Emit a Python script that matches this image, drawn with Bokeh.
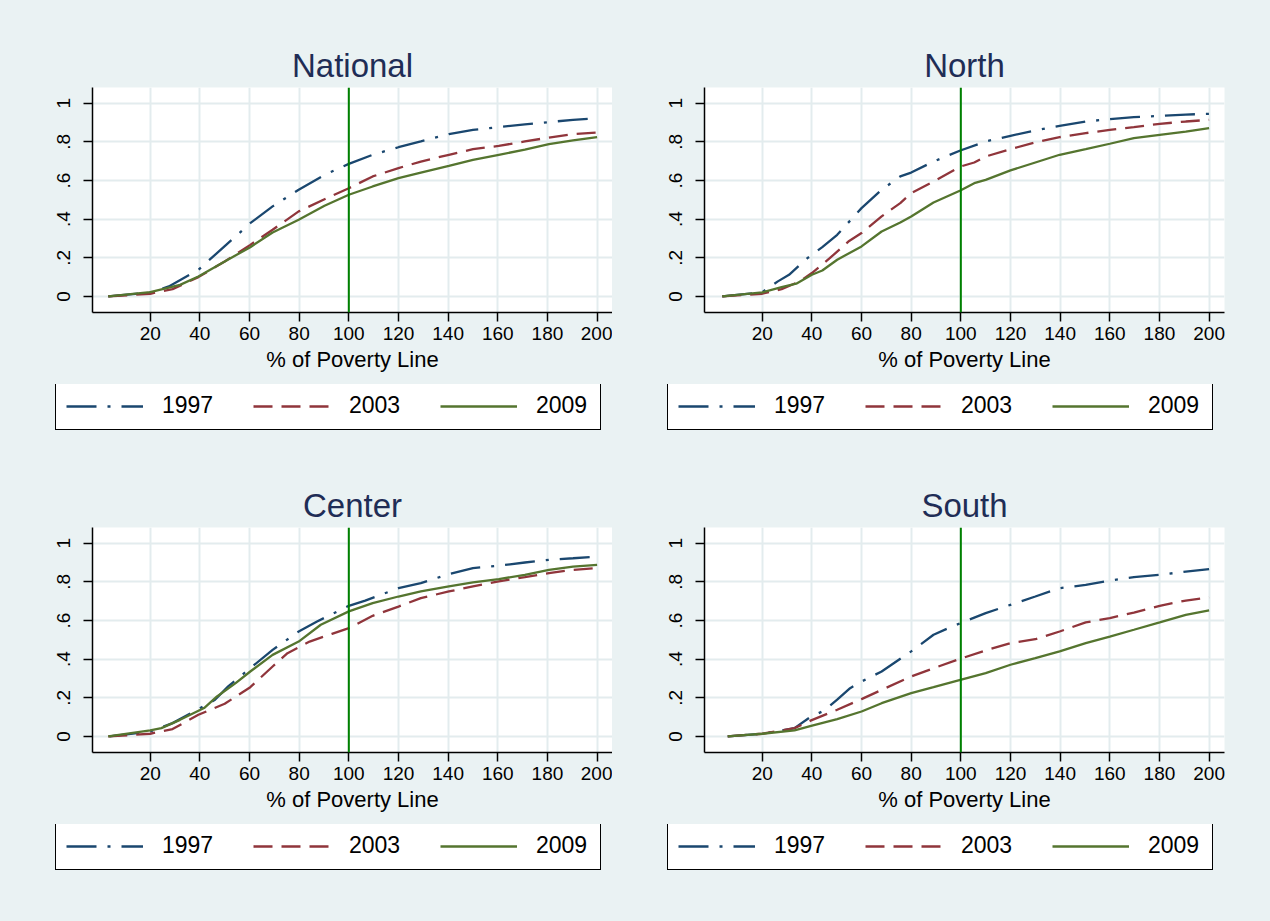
from bokeh.plotting import figure
from bokeh.layouts import column, row
from bokeh.models import Range1d, FixedTicker, Legend, Span
from bokeh.embed import file_html
from bokeh.resources import INLINE

# Cumulative share of population below a given % of the poverty line
years = ["1997", "2003", "2009"]
regions = ["National", "North", "Center", "South"]
x_ticks = [20, 40, 60, 80, 100, 120, 140, 160, 180, 200]
y_ticks = [0, 0.2, 0.4, 0.6, 0.8, 1]
y_tick_labels = {0: "0", 0.2: ".2", 0.4: ".4", 0.6: ".6", 0.8: ".8", 1: "1"}
poverty_line = 100

national_x_1997 = [3.1, 20, 27.5, 39.4, 49.9, 60.3, 69.3, 79.8, 90.2, 100, 109.6, 120, 129, 140.3, 150, 160.4, 170.9, 180.6, 190.3, 200]
national_y_1997 = [0, 0.02, 0.052, 0.138, 0.259, 0.379, 0.466, 0.552, 0.629, 0.686, 0.733, 0.772, 0.802, 0.84, 0.862, 0.876, 0.89, 0.902, 0.914, 0.922]
national_x_2003 = [3.1, 20, 29, 39.4, 50, 60.3, 69.3, 79.8, 90.2, 100, 109.6, 120, 129, 140.3, 150, 160.4, 170.9, 180.6, 190.3, 200]
national_y_2003 = [0, 0.014, 0.038, 0.1, 0.181, 0.267, 0.345, 0.44, 0.503, 0.56, 0.621, 0.664, 0.698, 0.733, 0.762, 0.779, 0.802, 0.822, 0.84, 0.848]
national_x_2009 = [3.1, 20, 32, 39.4, 50, 60.3, 69.3, 79.8, 90.2, 100, 109.6, 120, 129, 140.3, 150, 160.4, 170.9, 180.6, 190.3, 200]
national_y_2009 = [0, 0.022, 0.06, 0.103, 0.181, 0.255, 0.331, 0.397, 0.469, 0.526, 0.569, 0.612, 0.641, 0.676, 0.707, 0.733, 0.759, 0.788, 0.807, 0.824]

north_x_1997 = [3.9, 20, 26.3, 30.8, 38.2, 44.2, 50.2, 60, 68.1, 75.6, 80, 89, 99.8, 110, 120, 130, 139.8, 150.3, 160, 169.7, 180.1, 190.6, 200]
north_y_1997 = [0, 0.022, 0.078, 0.112, 0.198, 0.255, 0.319, 0.457, 0.552, 0.621, 0.641, 0.698, 0.755, 0.802, 0.831, 0.859, 0.883, 0.905, 0.917, 0.928, 0.934, 0.941, 0.945]
north_x_2003 = [3.9, 20, 27.8, 35.2, 40, 47.2, 54.7, 60, 68.1, 75.6, 80, 89, 99.8, 105.4, 110, 120, 130, 139.8, 150.3, 160, 169.7, 180.1, 190.6, 200]
north_y_2003 = [0, 0.014, 0.038, 0.078, 0.121, 0.198, 0.284, 0.328, 0.414, 0.483, 0.534, 0.595, 0.672, 0.693, 0.724, 0.762, 0.797, 0.824, 0.845, 0.862, 0.876, 0.893, 0.905, 0.914]
north_x_2009 = [3.9, 20, 27.8, 33.7, 40, 44.2, 50.2, 60, 68.1, 75.6, 80, 89, 99.8, 105.4, 110, 120, 130, 139.8, 150.3, 160, 169.7, 180.1, 190.6, 200]
north_y_2009 = [0, 0.021, 0.048, 0.066, 0.112, 0.134, 0.19, 0.259, 0.336, 0.383, 0.414, 0.486, 0.548, 0.586, 0.603, 0.652, 0.693, 0.733, 0.762, 0.79, 0.819, 0.836, 0.853, 0.871]

center_x_1997 = [3.6, 20, 29, 39.4, 46.1, 51.4, 60.3, 69.3, 79.8, 87.2, 100, 106.6, 120, 129, 140.3, 150, 160.4, 170.9, 180.6, 190.3, 197]
center_y_1997 = [0, 0.026, 0.069, 0.141, 0.19, 0.259, 0.353, 0.448, 0.543, 0.595, 0.676, 0.703, 0.767, 0.793, 0.84, 0.871, 0.883, 0.9, 0.914, 0.922, 0.928]
center_x_2003 = [3.1, 20, 29, 39.4, 50, 60.3, 69.3, 75.3, 84.2, 93.2, 100, 109.6, 120, 129, 140.3, 150, 160.4, 170.9, 180.6, 190.3, 200]
center_y_2003 = [0, 0.014, 0.038, 0.112, 0.169, 0.255, 0.362, 0.431, 0.491, 0.531, 0.56, 0.624, 0.672, 0.716, 0.75, 0.776, 0.802, 0.824, 0.845, 0.862, 0.871]
center_x_2009 = [3.1, 20, 24.5, 32, 41.7, 46.9, 54.4, 60.3, 69.3, 79.8, 88.7, 100, 109.6, 120, 129, 140.3, 150, 160.4, 170.9, 180.6, 190.3, 200]
center_y_2009 = [0, 0.031, 0.043, 0.086, 0.147, 0.207, 0.276, 0.336, 0.422, 0.491, 0.578, 0.647, 0.69, 0.724, 0.75, 0.776, 0.797, 0.814, 0.836, 0.862, 0.879, 0.888]

south_x_1997 = [6.1, 20, 27.8, 33, 39.7, 45, 50.2, 55.4, 60, 68.1, 80, 89, 96.5, 99.8, 110, 120, 130, 139.8, 150.3, 160, 169.7, 180.1, 190.6, 200]
south_y_1997 = [0, 0.014, 0.031, 0.043, 0.103, 0.134, 0.19, 0.25, 0.284, 0.336, 0.44, 0.526, 0.569, 0.586, 0.638, 0.681, 0.724, 0.767, 0.784, 0.807, 0.824, 0.836, 0.853, 0.866]
south_x_2003 = [6.1, 20, 33, 39.7, 50.2, 60, 68.1, 80, 89, 99.8, 110, 120, 130, 139.8, 150.3, 160, 169.7, 180.1, 190.6, 200]
south_y_2003 = [0, 0.014, 0.043, 0.083, 0.138, 0.193, 0.241, 0.31, 0.353, 0.402, 0.445, 0.483, 0.503, 0.543, 0.59, 0.612, 0.641, 0.676, 0.703, 0.719]
south_x_2009 = [6.1, 20, 33, 39.7, 50.2, 60, 68.1, 80, 89, 99.8, 110, 120, 130, 139.8, 150.3, 160, 169.7, 180.1, 190.6, 200]
south_y_2009 = [0, 0.014, 0.031, 0.055, 0.09, 0.129, 0.172, 0.224, 0.255, 0.293, 0.328, 0.371, 0.405, 0.44, 0.483, 0.517, 0.552, 0.59, 0.629, 0.652]

series = {
    "National": [(national_x_1997, national_y_1997), (national_x_2003, national_y_2003), (national_x_2009, national_y_2009)],
    "North": [(north_x_1997, north_y_1997), (north_x_2003, north_y_2003), (north_x_2009, north_y_2009)],
    "Center": [(center_x_1997, center_y_1997), (center_x_2003, center_y_2003), (center_x_2009, center_y_2009)],
    "South": [(south_x_1997, south_y_1997), (south_x_2003, south_y_2003), (south_x_2009, south_y_2009)],
}

BG = "#EAF2F3"
FONT = "Liberation Sans"
line_colors = ["#1A476F", "#90353B", "#55752F"]
line_dashes = ["30 11 3 11", "19 9", "solid"]
LINE_W = 2.3


def make_panel(name, width, right):
    p = figure(width=width, height=384, output_backend="svg", toolbar_location=None,
               x_range=Range1d(-3.25, 206.2), y_range=Range1d(-0.083, 1.081),
               min_border_left=92, min_border_right=right, min_border_top=87,
               min_border_bottom=72, background_fill_color="white",
               border_fill_color=BG, outline_line_color=None)
    p.title.text = name
    p.title.align = "center"
    p.title.text_font = FONT
    p.title.text_font_size = "33px"
    p.title.text_font_style = "normal"
    p.title.text_color = "#1F2D56"
    p.title.standoff = 7

    p.xaxis.ticker = FixedTicker(ticks=x_ticks)
    p.yaxis.ticker = FixedTicker(ticks=y_ticks)
    p.yaxis.major_label_overrides = y_tick_labels
    p.yaxis.major_label_orientation = "vertical"
    for ax in (p.xaxis, p.yaxis):
        ax.axis_line_color = "black"
        ax.axis_line_width = 1.5
        ax.major_tick_line_color = "black"
        ax.major_tick_line_width = 1.5
        ax.major_tick_out = 9
        ax.major_tick_in = 0
        ax.minor_tick_line_color = None
        ax.major_label_text_font = FONT
        ax.major_label_text_font_size = "19px"
        ax.major_label_text_color = "black"
    p.xaxis.major_label_standoff = 5
    p.yaxis.major_label_standoff = 13
    p.xaxis.axis_label = "% of Poverty Line"
    p.xaxis.axis_label_text_font = FONT
    p.xaxis.axis_label_text_font_size = "22px"
    p.xaxis.axis_label_text_font_style = "normal"
    p.xaxis.axis_label_text_color = "black"
    p.xaxis.axis_label_standoff = 4

    p.xgrid.ticker = FixedTicker(ticks=x_ticks)
    p.ygrid.ticker = FixedTicker(ticks=y_ticks)
    for g in (p.xgrid, p.ygrid):
        g.grid_line_color = "#E3ECEE"
        g.grid_line_width = 2

    for (xs, ys), color, dash in zip(series[name], line_colors, line_dashes):
        p.line(xs, ys, line_color=color, line_width=LINE_W, line_dash=dash)

    p.add_layout(Span(location=poverty_line, dimension="height",
                      line_color="#008000", line_width=2))
    return p


def make_key(name, width, height, bottom):
    """A strip holding the year key drawn beneath each panel.

    The series are attached here as hidden renderers so that the key
    shows each year's line style.
    """
    k = figure(width=width, height=height, output_backend="svg", toolbar_location=None,
               x_range=Range1d(-3.25, 206.2), y_range=Range1d(-0.083, 1.081),
               x_axis_type=None, y_axis_type=None,
               min_border=0, min_border_left=0, min_border_right=0,
               min_border_top=0, min_border_bottom=0,
               background_fill_color=BG, border_fill_color=BG, outline_line_color=None)
    k.xgrid.visible = False
    k.ygrid.visible = False
    swatches = []
    for (xs, ys), color, dash in zip(series[name], line_colors, line_dashes):
        r = k.line(xs, ys, line_color=color, line_width=2.6, line_dash=dash)
        r.visible = False
        swatches.append(r)
    legend = Legend(items=[(y, [r]) for y, r in zip(years, swatches)],
                    orientation="horizontal", location=(55, bottom),
                    glyph_width=77, glyph_height=20, label_standoff=19,
                    label_width=54, spacing=37, padding=10, margin=0,
                    border_line_color="black", border_line_width=1.5,
                    border_line_alpha=1,
                    background_fill_color="white", background_fill_alpha=1,
                    inactive_fill_alpha=0,
                    label_text_font=FONT, label_text_font_size="23px",
                    label_text_color="black")
    k.add_layout(legend, "center")
    return k


p1 = make_panel("National", 612, 0)
p2 = make_panel("North", 658, 46)
p3 = make_panel("Center", 612, 0)
p4 = make_panel("South", 658, 46)
k1 = make_key("National", 612, 56, 10)
k2 = make_key("North", 658, 56, 10)
k3 = make_key("Center", 612, 97, 51)
k4 = make_key("South", 658, 97, 51)

bg = {"background-color": BG}
layout = column(row(p1, p2, styles=bg), row(k1, k2, styles=bg),
                row(p3, p4, styles=bg), row(k3, k4, styles=bg), styles=bg)
open("out.html", "w").write(file_html(layout, INLINE))
